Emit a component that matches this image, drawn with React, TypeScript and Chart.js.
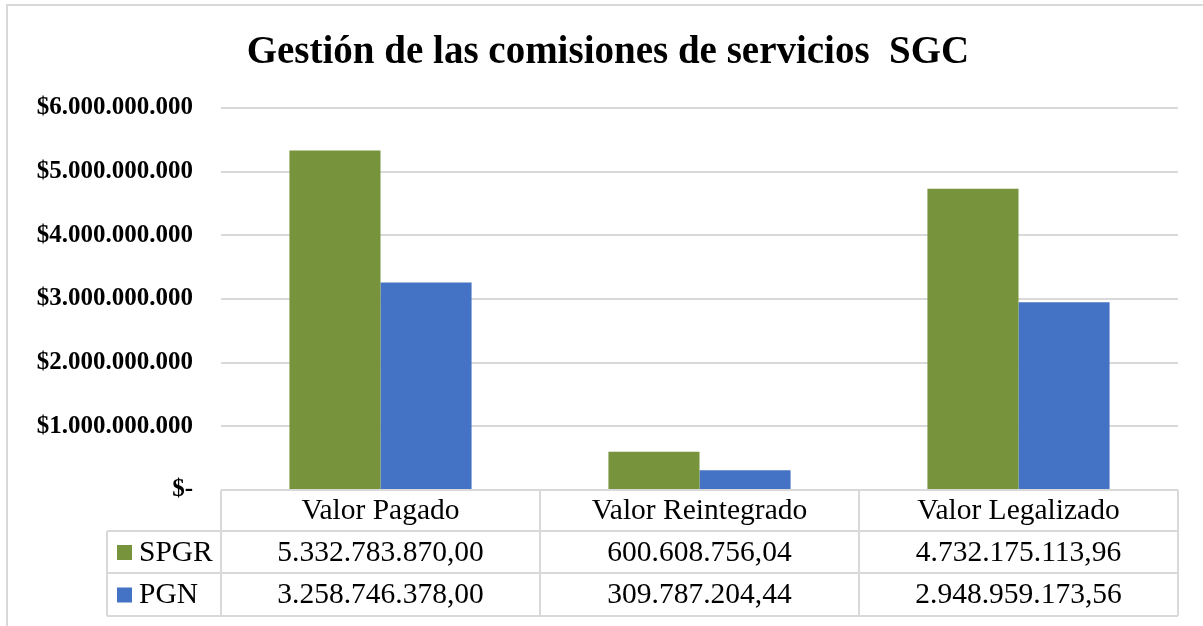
import React, { useEffect, useRef } from 'react';
import { Chart, registerables } from 'chart.js';

Chart.register(...registerables);

const titleText = 'Gestión de las comisiones de servicios  SGC';
const categories = ['Valor Pagado', 'Valor Reintegrado', 'Valor Legalizado'];
const seriesNames = ['SPGR', 'PGN'];
const spgrValues = [5332783870.0, 600608756.04, 4732175113.96];
const pgnValues = [3258746378.0, 309787204.44, 2948959173.56];
const seriesColors = ['#77933C', '#4472C4'];
const yTickValues = [0, 1000000000, 2000000000, 3000000000, 4000000000, 5000000000, 6000000000];

const FONT = "'Liberation Serif', 'Times New Roman', serif";
const GRID = '#D9D9D9';

function groupThousands(intStr: string): string {
  let out = '';
  for (let i = 0; i < intStr.length; i++) {
    const fromEnd = intStr.length - i;
    out += intStr[i];
    if (fromEnd > 1 && (fromEnd - 1) % 3 === 0) out += '.';
  }
  return out;
}

function formatTable(v: number): string {
  const [i, d] = v.toFixed(2).split('.');
  return groupThousands(i) + ',' + d;
}

function formatTick(v: number): string {
  if (v === 0) return '$-';
  return '$' + groupThousands(Math.round(v).toString());
}

const decorPlugin = {
  id: 'decor',
  afterDraw(chart: any) {
    const ctx = chart.ctx as CanvasRenderingContext2D;
    const x = chart.scales.x;
    const area = chart.chartArea;
    ctx.save();

    // outer frame
    ctx.strokeStyle = GRID;
    ctx.lineWidth = 2;
    ctx.beginPath();
    ctx.moveTo(7, 626);
    ctx.lineTo(7, 5);
    ctx.lineTo(1203, 5);
    ctx.stroke();

    // title
    ctx.fillStyle = '#000000';
    ctx.font = `bold 39px ${FONT}`;
    ctx.textAlign = 'center';
    ctx.textBaseline = 'alphabetic';
    ctx.fillText(titleText, 608, 63);

    // data table
    const top = area.bottom;
    const rowYs = [top, 531, 573, 616];
    const left = area.left;
    const right = area.right;
    const rowHeadLeft = 107;
    const catW = (right - left) / categories.length;
    const colEdges: number[] = [];
    for (let i = 0; i < categories.length; i++) {
      colEdges.push(x.getPixelForValue(i) - catW / 2);
    }
    colEdges.push(right);

    ctx.strokeStyle = GRID;
    ctx.lineWidth = 2;
    ctx.beginPath();
    ctx.moveTo(left, rowYs[0]);
    ctx.lineTo(right, rowYs[0]);
    for (let r = 1; r < rowYs.length; r++) {
      ctx.moveTo(rowHeadLeft, rowYs[r]);
      ctx.lineTo(right, rowYs[r]);
    }
    for (const cx of colEdges) {
      ctx.moveTo(cx, rowYs[0]);
      ctx.lineTo(cx, rowYs[3]);
    }
    ctx.moveTo(rowHeadLeft, rowYs[1]);
    ctx.lineTo(rowHeadLeft, rowYs[3]);
    ctx.stroke();

    ctx.fillStyle = '#000000';
    ctx.font = `29.5px ${FONT}`;
    ctx.textAlign = 'center';
    ctx.textBaseline = 'middle';
    const series = [spgrValues, pgnValues];
    for (let i = 0; i < categories.length; i++) {
      const cx = x.getPixelForValue(i);
      ctx.fillText(categories[i], cx, (rowYs[0] + rowYs[1]) / 2 + 1);
      for (let s = 0; s < series.length; s++) {
        ctx.fillText(formatTable(series[s][i]), cx, (rowYs[s + 1] + rowYs[s + 2]) / 2 + 1);
      }
    }
    // legend keys
    ctx.textAlign = 'left';
    for (let s = 0; s < seriesNames.length; s++) {
      const cy = (rowYs[s + 1] + rowYs[s + 2]) / 2;
      ctx.fillStyle = seriesColors[s];
      ctx.fillRect(117, cy - 7, 15, 15);
      ctx.fillStyle = '#000000';
      ctx.fillText(seriesNames[s], 139, cy + 1);
    }
    ctx.restore();
  },
};

export default function App() {
  const ref = useRef<HTMLCanvasElement | null>(null);
  useEffect(() => {
    if (!ref.current) return;
    const chart = new Chart(ref.current, {
      type: 'bar',
      data: {
        labels: categories,
        datasets: [
          {
            label: seriesNames[0],
            data: spgrValues,
            backgroundColor: seriesColors[0],
            barPercentage: 1,
            categoryPercentage: 0.571,
          },
          {
            label: seriesNames[1],
            data: pgnValues,
            backgroundColor: seriesColors[1],
            barPercentage: 1,
            categoryPercentage: 0.571,
          },
        ],
      },
      options: {
        responsive: false,
        animation: false,
        layout: { padding: { left: 0, right: 25, top: 108, bottom: 136 } },
        plugins: {
          legend: { display: false },
          title: { display: false },
          tooltip: { enabled: false },
        },
        scales: {
          x: {
            display: false,
            offset: true,
          },
          y: {
            min: 0,
            max: 6000000000,
            afterFit: (scale: any) => {
              scale.width = 221;
            },
            afterBuildTicks: (scale: any) => {
              scale.ticks = yTickValues.map((v) => ({ value: v }));
            },
            border: { display: false },
            grid: {
              color: (c: any) => (c.tick && c.tick.value === 0 ? 'rgba(0,0,0,0)' : GRID),
              lineWidth: 2,
              drawTicks: false,
            },
            ticks: {
              padding: 28,
              color: '#000000',
              font: { family: FONT, size: 25, weight: 'bold' },
              callback: (v: any) => formatTick(Number(v)),
            },
          },
        },
      },
      plugins: [decorPlugin],
    });
    return () => chart.destroy();
  }, []);
  return (
    <div style={{ position: 'absolute', left: 0, top: 0, width: 1203, height: 626, background: '#fff' }}>
      <canvas ref={ref} width={1203} height={626} style={{ display: 'block' }} />
    </div>
  );
}
